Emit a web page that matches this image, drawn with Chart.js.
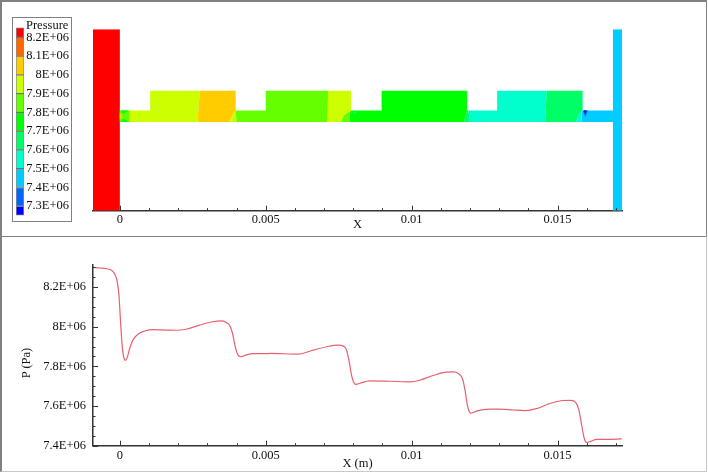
<!DOCTYPE html>
<html>
<head>
<meta charset="utf-8">
<title>Pressure</title>
<script src="https://cdn.jsdelivr.net/npm/chart.js@4"></script>
<style>
  html, body { margin: 0; padding: 0; background: #fff; width: 708px; height: 473px; overflow: hidden; }
  canvas { position: absolute; }
  .panel { position: absolute; box-sizing: border-box; border: 1px solid #808080; }
  #legendBox { position: absolute; left: 12px; top: 17px; width: 60px; height: 205px; box-sizing: border-box; border: 1px solid #808080; background: #fff; }
  #legendTitle { position: absolute; left: 26px; top: 18px; font: 12.5px "Liberation Serif"; color: #111; }
  #yTitle { position: absolute; left: 26px; top: 363px; transform: translate(-50%, -50%) rotate(-90deg); font: 12.5px "Liberation Serif"; color: #111; white-space: nowrap; }
</style>
</head>
<body>
<div class="panel" style="left:0;top:0;width:707px;height:237px;border-top-width:2px;border-left-width:2px"></div>
<div class="panel" style="left:0;top:236px;width:707px;height:236px;border-left-width:2px;border-color:#808080 #c8c8c8 #c8c8c8 #808080"></div>
<canvas id="fieldChart" width="708" height="236" style="left:0;top:0"></canvas>
<canvas id="lineChart" width="708" height="236" style="left:0;top:237px"></canvas>
<div id="yTitle">P (Pa)</div>
<div id="legendBox"></div>
<canvas id="legendChart" width="58" height="207" style="left:13px;top:18px"></canvas>
<div id="legendTitle">Pressure</div>
<script>
// Axis ticks
const xTicks = [0, 0.001, 0.002, 0.003, 0.004, 0.005, 0.006, 0.007, 0.008, 0.009, 0.01, 0.011, 0.012, 0.013, 0.014, 0.015, 0.016, 0.017];
const xLabelled = [0, 0.005, 0.01, 0.015];
const pTicks = [7400000, 7450000, 7500000, 7550000, 7600000, 7650000, 7700000, 7750000, 7800000, 7850000, 7900000, 7950000, 8000000, 8050000, 8100000, 8150000, 8200000, 8250000, 8300000];
const pLabelled = [7400000, 7600000, 7800000, 8000000, 8200000];

// Pressure along the centre line
const lineX = [-0.00092, -0.00068, -0.00045, -0.00028, -0.00017, -0.00009, -0.00003, 0.00001, 0.00006, 0.0001, 0.00015, 0.00019, 0.00025, 0.00034, 0.00045, 0.00063, 0.00085, 0.00114, 0.00159, 0.00193, 0.00227, 0.00273, 0.00318, 0.00347, 0.00364, 0.00377, 0.00386, 0.00393, 0.004, 0.00407, 0.00415, 0.00432, 0.00455, 0.005, 0.00514, 0.00611, 0.00663, 0.00709, 0.00749, 0.00766, 0.00777, 0.00786, 0.00794, 0.00802, 0.00809, 0.00823, 0.00857, 0.00926, 0.00994, 0.01028, 0.01074, 0.0112, 0.01143, 0.0116, 0.01174, 0.01183, 0.01191, 0.01198, 0.01204, 0.01223, 0.01246, 0.01269, 0.01303, 0.01348, 0.01388, 0.01428, 0.01474, 0.0152, 0.01545, 0.01562, 0.01572, 0.0158, 0.01588, 0.01595, 0.01601, 0.01614, 0.01634, 0.01668, 0.0172];
const lineP = [8299000, 8296000, 8292000, 8284000, 8264000, 8227000, 8160000, 8059000, 7941000, 7874000, 7837000, 7830000, 7844000, 7891000, 7933000, 7963000, 7978000, 7985000, 7983000, 7982000, 7987000, 8008000, 8025000, 8029000, 8022000, 8005000, 7967000, 7916000, 7874000, 7852000, 7849000, 7857000, 7864000, 7864000, 7865000, 7862000, 7882000, 7899000, 7907000, 7902000, 7882000, 7823000, 7756000, 7717000, 7709000, 7715000, 7727000, 7725000, 7722000, 7730000, 7754000, 7771000, 7772000, 7764000, 7739000, 7680000, 7604000, 7570000, 7564000, 7574000, 7582000, 7584000, 7584000, 7580000, 7577000, 7587000, 7613000, 7628000, 7629000, 7618000, 7587000, 7528000, 7461000, 7422000, 7416000, 7422000, 7432000, 7432000, 7434000];

// Colour bar
const levelColors = ['#ff0000', '#ff6600', '#ffcc00', '#ccff00', '#66ff00', '#00ff00', '#00ff66', '#00ffcc', '#00ccff', '#0066ff', '#0000ff'];
const levelEdges = [8252700, 8200000, 8100000, 8000000, 7900000, 7800000, 7700000, 7600000, 7500000, 7400000, 7300000, 7250500];
const legendTicks = [8200000, 8100000, 8000000, 7900000, 7800000, 7700000, 7600000, 7500000, 7400000, 7300000];

// Geometry heights of the contour plot, metres
const yL = 0.00304, yM = 0.00344, yH = 0.00411, yTop = 0.00622;

// Contour regions [x, y] in metres, painted in this order
const regionShapes = [
  [[-0.00092, 0], [-0.00092, yTop], [0, yTop], [0, 0]],
  [[0.0169, 0], [0.0169, yTop], [0.01721, yTop], [0.01721, 0]],
  [[0, yL], [0, yM], [0.00034, yM], [0.00034, yL]],
  [[0.00002, yM], [0.0003, yM], [0.00012, 0.00332]],
  [[0.00002, yL], [0.0003, yL], [0.00012, 0.00316]],
  [[0, 0.00335], [0.00009, 0.00324], [0, 0.00313]],
  [[0, 0.00332], [0.00005, 0.00324], [0, 0.00316]],
  [[0.00034, yL], [0.00034, yM], [0.00104, yM], [0.00104, yH], [0.00274, yH], [0.00266, yL]],
  [[0.00266, yL], [0.00274, yH], [0.00397, yH], [0.00397, yM], [0.00385, 0.00325], [0.00375, yL]],
  [[0.00375, yL], [0.00385, 0.00325], [0.00397, yM], [0.00398, 0.0033], [0.004, yL]],
  [[0.004, yL], [0.00398, 0.0033], [0.00397, yM], [0.005, yM], [0.005, yH], [0.00714, yH], [0.00711, yL]],
  [[0.00711, yL], [0.00714, yH], [0.00792, yH], [0.00792, yM], [0.00769, 0.00328], [0.00757, yL]],
  [[0.00757, yL], [0.00769, 0.00328], [0.00792, yM], [0.00788, 0.0033], [0.00788, yL]],
  [[0.00788, yL], [0.00788, 0.0033], [0.00792, yM], [0.00897, yM], [0.00897, yH], [0.0119, yH], [0.0119, yM], [0.01179, yL]],
  [[0.00799, 0.00336], [0.00806, 0.00342], [0.00813, 0.00336], [0.00806, 0.0033]],
  [[0.01179, yL], [0.0119, yM], [0.01195, yM], [0.012, yL]],
  [[0.012, yL], [0.01195, yM], [0.01293, yM], [0.01293, yH], [0.01463, yH], [0.01457, yL]],
  [[0.01457, yL], [0.01463, yH], [0.01586, yH], [0.01586, yM], [0.01572, 0.00328], [0.01563, yL]],
  [[0.01563, yL], [0.01572, 0.00328], [0.01586, yM], [0.01583, 0.0033], [0.01584, yL]],
  [[0.01584, yL], [0.01583, 0.0033], [0.01586, yM], [0.0169, yM], [0.0169, yL]],
  [[0.01586, yM], [0.01604, yM], [0.01595, 0.00322]],
  [[0.0159, yM], [0.016, yM], [0.01595, 0.00332]]
];
const regionLevels = [0, 8, 4, 5, 5, 3, 2, 3, 2, 3, 4, 3, 4, 5, 6, 6, 7, 6, 7, 8, 9, 10];

const serif = '"Liberation Serif", "Times New Roman", serif';
const textColor = '#111';
const axisColor = '#333';

Chart.defaults.animation = false;
Chart.defaults.responsive = false;
Chart.defaults.font.family = serif;
Chart.defaults.font.size = 12.5;
Chart.defaults.color = textColor;

function sciLabel(v) {
    return parseFloat((v / 1e6).toFixed(1)) + 'E+06';
}

// Tecplot style ticks point into the plot, long ones carry a label
const insideTicks = {
    id: 'insideTicks',
    afterDraw(chart) {
        const ctx = chart.ctx;
        ctx.save();
        ctx.strokeStyle = axisColor;
        ctx.lineWidth = 1;
        ctx.beginPath();
        Object.values(chart.scales).forEach(scale => {
            if (!scale.options.display) return;
            scale.ticks.forEach(t => {
                const pos = Math.round(scale.getPixelForValue(t.value)) + 0.5;
                if (scale.axis === 'x') {
                    ctx.moveTo(pos, scale.top);
                    ctx.lineTo(pos, scale.top - (t.label !== '' ? 5 : 2.5));
                } else {
                    ctx.moveTo(scale.right, pos);
                    ctx.lineTo(scale.right + (t.label !== '' ? 5 : 2.5), pos);
                }
            });
        });
        ctx.stroke();
        ctx.restore();
    }
};

function xAxis(title, axisHeight, labelPad, titlePad) {
    return {
        type: 'linear',
        min: -0.00092,
        max: 0.01721,
        afterBuildTicks: scale => { scale.ticks = xTicks.map(v => ({ value: v })); },
        afterFit: scale => { scale.height = axisHeight; },
        grid: { display: false, drawTicks: false },
        border: { color: axisColor, width: 1.5 },
        ticks: {
            autoSkip: false,
            maxRotation: 0,
            padding: labelPad,
            callback: v => (xLabelled.includes(v) ? String(v) : '')
        },
        title: { display: true, text: title, padding: { top: 0, bottom: titlePad } }
    };
}

// Contour plot
new Chart(document.getElementById('fieldChart'), {
    type: 'scatter',
    data: {
        datasets: regionShapes.map((shape, i) => ({
            data: shape.map(p => ({ x: p[0], y: p[1] })),
            showLine: true,
            fill: 'shape',
            tension: 0,
            borderWidth: 0,
            pointRadius: 0,
            backgroundColor: levelColors[regionLevels[i]],
            order: regionShapes.length - i
        }))
    },
    options: {
        layout: { padding: { left: 93, right: 86, top: 29.3, bottom: 0 } },
        plugins: { legend: { display: false }, tooltip: { enabled: false } },
        scales: {
            x: xAxis('X', 25.3, 2, 4),
            y: { display: false, min: 0, max: yTop }
        }
    },
    plugins: [insideTicks]
});

// Pressure profile
new Chart(document.getElementById('lineChart'), {
    type: 'scatter',
    data: {
        datasets: [{
            data: lineX.map((x, i) => ({ x: x, y: lineP[i] })),
            showLine: true,
            cubicInterpolationMode: 'monotone',
            borderColor: '#e8606a',
            borderWidth: 1.2,
            pointRadius: 0
        }]
    },
    options: {
        layout: { padding: { left: 20, right: 86, top: 28, bottom: 0 } },
        plugins: { legend: { display: false }, tooltip: { enabled: false } },
        scales: {
            x: xAxis('X (m)', 27.3, 3, 2),
            y: {
                type: 'linear',
                min: 7400000,
                max: 8311000,
                afterBuildTicks: scale => { scale.ticks = pTicks.map(v => ({ value: v })); },
                afterFit: scale => { scale.width = 73; },
                grid: { display: false, drawTicks: false },
                border: { color: axisColor, width: 1.5 },
                ticks: {
                    autoSkip: false,
                    padding: 7,
                    callback: v => (pLabelled.includes(v) ? sciLabel(v) : '')
                }
            }
        }
    },
    plugins: [insideTicks]
});

// Colour bar, built as floating bars on a pressure scale
new Chart(document.getElementById('legendChart'), {
    type: 'bar',
    data: {
        labels: ['Pressure'],
        datasets: levelColors.map((c, i) => ({
            data: [[levelEdges[i + 1], levelEdges[i]]],
            backgroundColor: c,
            borderColor: 'rgba(50,50,50,0.55)',
            borderWidth: 1,
            borderSkipped: false,
            grouped: false,
            barPercentage: 1,
            categoryPercentage: 1
        }))
    },
    options: {
        layout: { padding: { left: 3, right: 2, top: 8.7, bottom: 5 } },
        plugins: { legend: { display: false }, tooltip: { enabled: false } },
        scales: {
            x: { display: false },
            y: {
                position: 'right',
                min: 7250500,
                max: 8252700,
                afterBuildTicks: scale => { scale.ticks = legendTicks.map(v => ({ value: v })); },
                afterFit: scale => { scale.width = 45; },
                grid: { display: false, drawTicks: false },
                border: { display: false },
                ticks: { autoSkip: false, padding: 2, crossAlign: 'far', callback: v => sciLabel(v) }
            }
        }
    }
});
</script>
</body>
</html>
